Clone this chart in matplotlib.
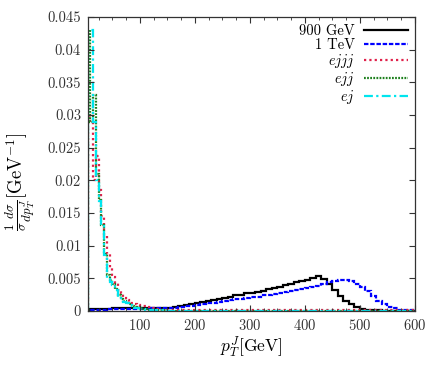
import numpy as np
import matplotlib
matplotlib.use('Agg')
import matplotlib.pyplot as plt
from matplotlib.ticker import MultipleLocator, FuncFormatter

plt.rcParams['font.family'] = 'cmr10'
plt.rcParams['mathtext.fontset'] = 'cm'
plt.rcParams['axes.formatter.use_mathtext'] = True

# signal histograms, 10 GeV bins from 0 to 600
sig_edges = np.arange(0, 610, 10)
m900 = [0.0002, 0.0003, 0.0003, 0.0003, 0.0003, 0.0004, 0.0004, 0.0004, 0.0004, 0.0004,
        0.0004, 0.0004, 0.0004, 0.0004, 0.0005, 0.0005, 0.0006, 0.0007, 0.0009, 0.0010,
        0.0012, 0.0014, 0.0015, 0.0017, 0.0019, 0.0020, 0.0022, 0.0024, 0.0025, 0.0027,
        0.0028, 0.0029, 0.0031, 0.0033, 0.0035, 0.0037, 0.0040, 0.0042, 0.0044, 0.0046,
        0.0048, 0.0051, 0.0053, 0.0049, 0.0042, 0.0032, 0.0023, 0.0015, 0.0010, 0.0006,
        0.0003, 0.0002, 0.0001, 0.0001, 0.00005, 0.00005, 0.00003, 0.00003, 0.00002, 0.00002]
m1tev = [0.0002, 0.0002, 0.0002, 0.0002, 0.0003, 0.0003, 0.0003, 0.0003, 0.0003, 0.0003,
         0.0003, 0.0003, 0.0004, 0.0004, 0.0004, 0.0004, 0.0005, 0.0006, 0.0007, 0.0008,
         0.0009, 0.0010, 0.0012, 0.0013, 0.0014, 0.0016, 0.0017, 0.0018, 0.0019, 0.0020,
         0.0021, 0.0022, 0.0024, 0.0025, 0.0026, 0.0028, 0.0029, 0.0031, 0.0032, 0.0034,
         0.0035, 0.0037, 0.0039, 0.0042, 0.0044, 0.0046, 0.0047, 0.0047, 0.0046, 0.0042,
         0.0037, 0.0030, 0.0023, 0.0016, 0.0010, 0.0006, 0.0004, 0.0002, 0.0001, 0.0001]

# background histograms, 5 GeV bins up to 150 then one wide bin
bkg_edges = list(range(5, 155, 5)) + [600]
ejjj = [0.030, 0.029, 0.020, 0.0237, 0.0185, 0.0145, 0.0115, 0.0088, 0.0066, 0.0052,
        0.0043, 0.0032, 0.0027, 0.0020, 0.0017, 0.0013, 0.0012, 0.0010, 0.0009, 0.0008,
        0.0007, 0.0007, 0.0006, 0.0005, 0.0004, 0.0003, 0.0003, 0.0002, 0.0002, 0.0001]
ejj = [0.043, 0.029, 0.033, 0.021, 0.017, 0.0132, 0.0088, 0.0055, 0.0047, 0.0042,
       0.0034, 0.0025, 0.0019, 0.0015, 0.0013, 0.0010, 0.0008, 0.0006, 0.0005, 0.0004,
       0.0003, 0.0003, 0.0002, 0.0002, 0.00015, 0.0001, 0.0001, 0.0001, 0.00008, 0.00004]
ej = [0.043, 0.043, 0.029, 0.020, 0.0168, 0.013, 0.0085, 0.0050, 0.0044, 0.0040,
      0.0032, 0.0022, 0.0017, 0.0014, 0.0012, 0.0009, 0.0007, 0.0005, 0.0004, 0.0003,
      0.0003, 0.0002, 0.0002, 0.00015, 0.0001, 0.0001, 0.0001, 0.00008, 0.00006, 0.00003]

fig = plt.figure(figsize=(4.4, 3.67), dpi=100)
ax = fig.add_axes([0.2, 0.1526, 0.743, 0.801])

ax.stairs(m900, sig_edges, color='black', lw=1.6, label='900 GeV')
ax.stairs(m1tev, sig_edges, color='#0000ff', lw=1.6, linestyle=(0, (2.0, 0.8)), label='1 TeV')
ax.stairs(ejjj, bkg_edges, color='#e0204a', lw=1.6, linestyle=(0, (1.0, 1.4)), label='$ejjj$')
ax.stairs(ejj, bkg_edges, color='#1e801e', lw=1.6, linestyle=(0, (0.8, 0.6)), label='$ejj$')
ax.stairs(ej, bkg_edges, color='#00e5ee', lw=1.6, linestyle=(0, (4, 1.5, 1, 1.5)), label='$ej$')

ax.set_xlim(5.6, 600)
ax.set_ylim(0, 0.045)
ax.xaxis.set_minor_locator(MultipleLocator(25))
ax.yaxis.set_major_locator(MultipleLocator(0.005))
ax.yaxis.set_major_formatter(FuncFormatter(lambda v, p: '0' if abs(v) < 1e-9 else '%g' % v))
ax.set_xticks([100, 200, 300, 400, 500, 600])
ax.tick_params(which='both', direction='in', top=True, right=True, labelsize=10.5,
               colors='#333333', pad=5)
ax.tick_params(which='major', length=4.5)
ax.tick_params(which='minor', length=2.5)
for s in ax.spines.values():
    s.set_linewidth(0.9)
    s.set_color('#333333')

ax.set_xlabel(r'$p_T^J$[GeV]', fontsize=12.5, labelpad=1)
# y label placed by hand, a bit below the axis middle like the reference
fig.text(20 / 440, 1 - 182 / 367, r'$\frac{1}{\sigma}\frac{d\sigma}{dp_T^J}$[GeV$^{-1}$]',
         fontsize=13.5, rotation=90, ha='center', va='center')

ax.legend(loc='upper right', frameon=False, markerfirst=False, fontsize=10.5,
          handlelength=3.0, handletextpad=0.6, labelspacing=0.0, borderaxespad=0.3,
          borderpad=0.2)

plt.savefig('out.png', dpi=100)
